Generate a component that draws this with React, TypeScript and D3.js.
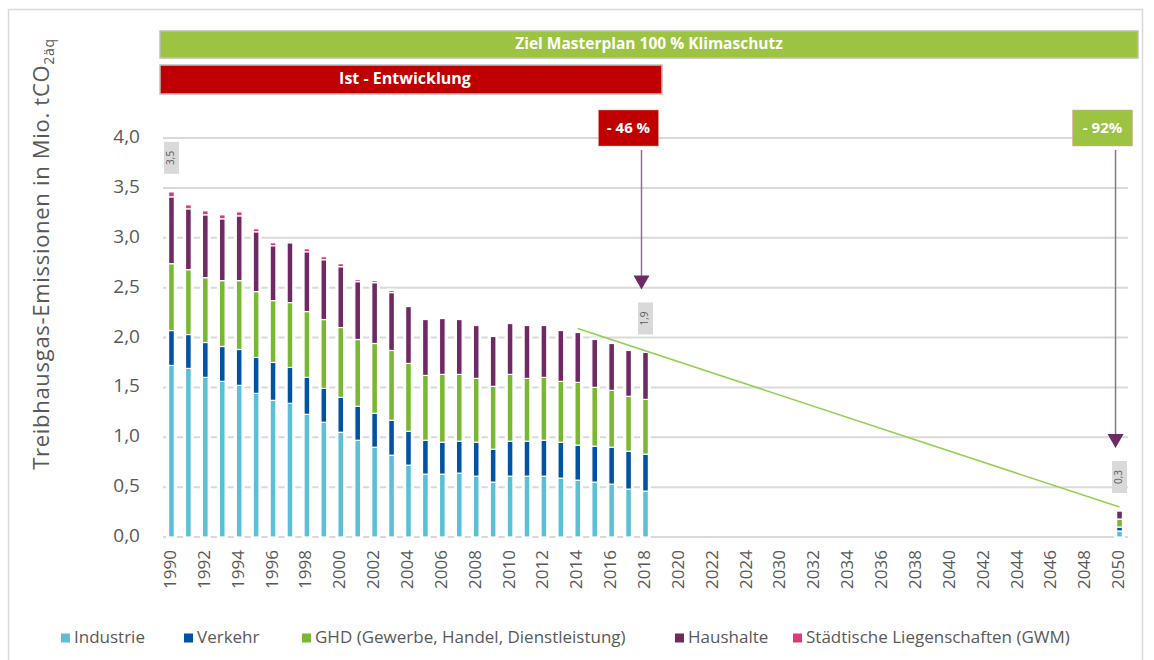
import * as d3 from "d3";

// categories on the x axis (Excel-style: 1990-2025, then 2030-2050)
const categories = [...d3.range(1990, 2026), ...d3.range(2030, 2051)].map(String);

const dataYears = [
  "1990", "1991", "1992", "1993", "1994", "1995", "1996", "1997", "1998", "1999",
  "2000", "2001", "2002", "2003", "2004", "2005", "2006", "2007", "2008", "2009",
  "2010", "2011", "2012", "2013", "2014", "2015", "2016", "2017", "2018", "2050",
];
const industrie = [
  1.72, 1.69, 1.6, 1.56, 1.52, 1.44, 1.37, 1.34, 1.23, 1.15,
  1.05, 0.97, 0.9, 0.82, 0.72, 0.63, 0.63, 0.64, 0.61, 0.55,
  0.61, 0.61, 0.61, 0.59, 0.57, 0.55, 0.53, 0.48, 0.46, 0.06,
];
const verkehr = [
  0.35, 0.34, 0.35, 0.35, 0.36, 0.36, 0.38, 0.36, 0.37, 0.34,
  0.35, 0.34, 0.34, 0.35, 0.34, 0.34, 0.32, 0.32, 0.34, 0.33,
  0.35, 0.35, 0.36, 0.36, 0.35, 0.36, 0.37, 0.38, 0.37, 0.04,
];
const ghd = [
  0.67, 0.65, 0.65, 0.66, 0.69, 0.66, 0.62, 0.65, 0.66, 0.69,
  0.7, 0.67, 0.7, 0.7, 0.68, 0.65, 0.68, 0.67, 0.64, 0.63,
  0.67, 0.63, 0.63, 0.61, 0.63, 0.59, 0.57, 0.55, 0.55, 0.08,
];
const haushalte = [
  0.67, 0.61, 0.63, 0.62, 0.65, 0.6, 0.55, 0.6, 0.6, 0.6,
  0.61, 0.58, 0.61, 0.58, 0.57, 0.56, 0.56, 0.55, 0.53, 0.5,
  0.51, 0.53, 0.52, 0.51, 0.5, 0.48, 0.47, 0.46, 0.47, 0.08,
];
const gwm = [
  0.05, 0.04, 0.04, 0.04, 0.04, 0.03, 0.03, 0.01, 0.03, 0.03,
  0.03, 0.02, 0.02, 0.02, 0, 0, 0, 0, 0, 0,
  0, 0, 0, 0, 0, 0, 0, 0, 0, 0,
];

const seriesNames = [
  "Industrie",
  "Verkehr",
  "GHD (Gewerbe, Handel, Dienstleistung)",
  "Haushalte",
  "Städtische Liegenschaften (GWM)",
];
const seriesColors = ["#5bc0d6", "#0052a2", "#7ab833", "#6f2a64", "#dc3a78"];

const yTicks = [0, 0.5, 1, 1.5, 2, 2.5, 3, 3.5, 4];

// value boxes above selected bars
const labelYears = ["1990", "2018", "2050"];
const labelTexts = ["3,5", "1,9", "0,3"];

// reduction callouts with arrows
const arrowYears = ["2018", "2050"];
const arrowTexts = ["- 46 %", "- 92%"];
const arrowColors = ["#c00000", "#9dc343"];

// target path (Masterplan)
const targetYears = ["2014", "2050"];
const targetValues = [2.09, 0.3];

const font = "'Open Sans', 'Noto Sans', sans-serif";
const grey = "#595959";

export default function App() {
  const width = 1154;
  const height = 660;
  const plotLeft = 163;
  const plotRight = 1128;
  const plotTop = 138;
  const plotBottom = 537;

  const rows = dataYears.map((year, i) => ({
    year,
    Industrie: industrie[i],
    Verkehr: verkehr[i],
    GHD: ghd[i],
    Haushalte: haushalte[i],
    GWM: gwm[i],
  }));
  const keys = ["Industrie", "Verkehr", "GHD", "Haushalte", "GWM"];
  const stacked = d3.stack().keys(keys)(rows as any);
  const totals = new Map(rows.map((r) => [r.year, r.Industrie + r.Verkehr + r.GHD + r.Haushalte + r.GWM]));

  const x = d3.scaleBand().domain(categories).range([plotLeft, plotRight]).paddingInner(0.66).paddingOuter(0.33);
  const y = d3.scaleLinear().domain([0, 4]).range([plotBottom, plotTop]);
  const bw = x.bandwidth();
  const xc = (c: string) => (x(c) as number) + bw / 2;

  const targetLine = d3
    .line<number>()
    .x((_, i) => xc(targetYears[i]))
    .y((d) => y(d));

  const legendX = [61, 184, 302, 675, 793];

  return (
    <svg width={width} height={height} style={{ position: "absolute", left: 0, top: 0 }} fontFamily={font}>
      {/* frame */}
      <rect x={8.5} y={9.5} width={1134} height={670} fill="white" stroke="#d9d9d9" strokeWidth={1.5} />

      {/* banners */}
      <rect x={160} y={31} width={978} height={27} fill="#9dc343" stroke="#bfbfbf" strokeWidth={1.5} />
      <text x={649} y={45} textAnchor="middle" dominantBaseline="middle" fill="white" fontWeight="bold" fontSize={15.5}>
        Ziel Masterplan 100 % Klimaschutz
      </text>
      <rect x={160} y={65} width={502} height={29} fill="#c00000" stroke="#bfbfbf" strokeWidth={1.5} />
      <text x={405} y={80} textAnchor="middle" dominantBaseline="middle" fill="white" fontWeight="bold" fontSize={16}>
        Ist - Entwicklung
      </text>

      {/* gridlines */}
      {yTicks.map((t) => (
        <line key={t} x1={plotLeft} x2={plotRight} y1={y(t)} y2={y(t)} stroke="#d9d9d9" strokeWidth={2} />
      ))}
      {/* y labels */}
      {yTicks.map((t) => (
        <text key={t} x={140} y={y(t)} textAnchor="end" dominantBaseline="middle" fontSize={19} fill={grey}>
          {d3.format(".1f")(t).replace(".", ",")}
        </text>
      ))}
      {/* y title */}
      <text
        transform={`translate(49, ${254}) rotate(-90)`}
        textAnchor="middle"
        fontSize={22}
        letterSpacing={0.7}
        fill={grey}
      >
        Treibhausgas-Emissionen in Mio. tCO
        <tspan fontSize={14} dy={5}>2äq</tspan>
      </text>

      {/* white halos behind bars */}
      {rows.map((r) => (
        <rect
          key={r.year}
          x={(x(r.year) as number) - 2.5}
          y={y(totals.get(r.year) as number) - 2}
          width={bw + 5}
          height={y(0) - y(totals.get(r.year) as number) + 4}
          fill="white"
        />
      ))}
      {/* stacked bars */}
      {stacked.map((s, si) => (
        <g key={s.key} fill={seriesColors[si]}>
          {s.map((d: any) =>
            d[1] - d[0] > 0 ? (
              <rect
                key={d.data.year}
                x={x(d.data.year)}
                y={y(d[1])}
                width={bw}
                height={y(d[0]) - y(d[1])}
                stroke="white"
                strokeWidth={1.2}
              />
            ) : null
          )}
        </g>
      ))}

      {/* x labels */}
      {categories.map((c, i) =>
        i % 2 === 0 ? (
          <text
            key={c}
            transform={`translate(${xc(c)}, ${550}) rotate(-90)`}
            textAnchor="end"
            dominantBaseline="middle"
            fontSize={17}
            fill={grey}
          >
            {c}
          </text>
        ) : null
      )}

      {/* target line */}
      <path d={targetLine(targetValues) as string} fill="none" stroke="#92d050" strokeWidth={1.5} />

      {/* value boxes */}
      {labelYears.map((yr, i) => {
        const top = y(totals.get(yr) as number);
        const cx = xc(yr);
        return (
          <g key={yr}>
            <rect x={cx - 7.5} y={top - 50} width={15} height={32} fill="#d9d9d9" />
            <text
              transform={`translate(${cx}, ${top - 34}) rotate(-90)`}
              textAnchor="middle"
              dominantBaseline="middle"
              fontSize={10}
              fill={grey}
            >
              {labelTexts[i]}
            </text>
          </g>
        );
      })}

      {/* arrows and callouts */}
      {arrowYears.map((yr, i) => {
        const top = y(totals.get(yr) as number);
        const cx = xc(yr) - 4;
        const tip = top - 63;
        return (
          <g key={yr}>
            <line x1={cx} x2={cx} y1={150} y2={tip - 12} stroke="#9a6a98" strokeWidth={1.5} />
            <path d={`M${cx - 8},${tip - 14}L${cx + 8},${tip - 14}L${cx},${tip}Z`} fill="#6f2a64" />
            <rect x={cx - 43} y={110} width={60} height={36} fill={arrowColors[i]} stroke="#e6a0a0" strokeWidth={0.5} />
            <text x={cx - 13} y={129} textAnchor="middle" dominantBaseline="middle" fill="white" fontWeight="bold" fontSize={15}>
              {arrowTexts[i]}
            </text>
          </g>
        );
      })}

      {/* legend */}
      {seriesNames.map((n, i) => (
        <g key={n} transform={`translate(${legendX[i]}, 638)`}>
          <rect x={0} y={-4.5} width={9} height={9} fill={seriesColors[i]} />
          <text x={13} y={0} dominantBaseline="middle" fontSize={17} fill={grey}>
            {n}
          </text>
        </g>
      ))}
    </svg>
  );
}
